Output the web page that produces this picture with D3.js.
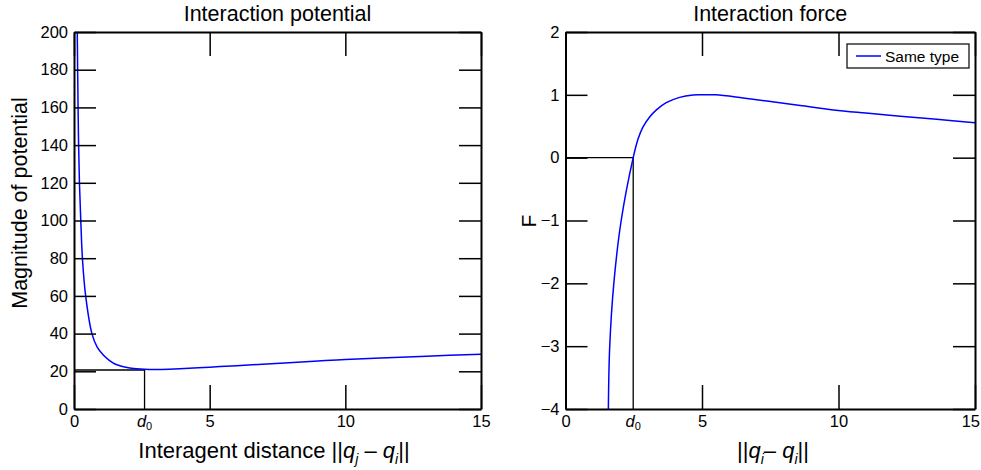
<!DOCTYPE html>
<html>
<head>
<meta charset="utf-8">
<script src="https://cdn.jsdelivr.net/npm/d3@7"></script>
<style>
  body { margin: 0; background: #fff; }
  svg text { font-family: "Liberation Sans", Arial, Helvetica, sans-serif; fill: #000; }
</style>
</head>
<body>
<svg width="981" height="470"></svg>
<script>

// potential curve
var potR = [0.12, 0.15, 0.17, 0.20, 0.25, 0.31, 0.43, 0.66, 0.85, 1.08, 1.30, 1.51, 1.75,
            2.00, 2.30, 2.60, 3.00, 3.50, 3.90, 5.00, 6.00, 7.60, 9.00, 10.0, 11.3, 13.0, 15.0];
var potU = [200, 160, 140, 120, 100, 80, 60, 40, 33, 28.6, 25.8, 23.9, 22.7,
            21.9, 21.4, 21.1, 21.0, 21.1, 21.3, 22.2, 23.0, 24.3, 25.5, 26.3, 27.0, 28.0, 29.1];

// force curve
var forceR = [1.57, 1.62, 1.77, 2.04, 2.48, 2.66, 2.84, 3.09, 3.33, 3.69, 4.18, 4.67, 5.00,
              5.50, 6.50, 7.38, 8.60, 9.82, 11.0, 12.26, 13.6, 15.0];
var forceF = [-4, -3, -2, -1, 0, 0.30, 0.49, 0.65, 0.76, 0.875, 0.96, 0.997, 1.0,
              1.0, 0.95, 0.90, 0.83, 0.76, 0.71, 0.66, 0.61, 0.555];

var xTicks = [0, 5, 10, 15];
var potTicks = [0, 20, 40, 60, 80, 100, 120, 140, 160, 180, 200];
var forceTicks = [-4, -3, -2, -1, 0, 1, 2];

var d0Pot = 2.6, uMin = 20.7;     // marker lines, left panel
var d0Force = 2.48;               // marker lines, right panel

var svg = d3.select('svg');

function panel(cfg) {
  var x = d3.scaleLinear().domain([0, 15]).range([cfg.left, cfg.right]);
  var y = d3.scaleLinear().domain(cfg.yDomain).range([409, 32]);
  var g = svg.append('g');

  g.append('clipPath').attr('id', cfg.id)
    .append('rect')
      .attr('x', cfg.left).attr('y', 32)
      .attr('width', cfg.right - cfg.left).attr('height', 409 - 32);

  // marker lines for d0
  g.append('path')
      .attr('d', 'M' + x(0) + ',' + y(cfg.markY) + 'H' + x(cfg.d0) + 'V' + y(cfg.yDomain[0]))
      .attr('fill', 'none').attr('stroke', '#000').attr('stroke-width', 1.3);

  // curve
  var line = d3.line()
      .x(function(d) { return x(d[0]); })
      .y(function(d) { return y(d[1]); })
      .curve(d3.curveCatmullRom.alpha(0.5));
  g.append('path')
      .datum(d3.zip(cfg.xs, cfg.ys))
      .attr('clip-path', 'url(#' + cfg.id + ')')
      .attr('d', line)
      .attr('fill', 'none').attr('stroke', '#0000ff').attr('stroke-width', 1.5);

  // axes, ticks pointing inward like matlab
  var fmt = function(d) { return d < 0 ? '\u2212' + (-d) : d; };
  var axes = [
    [d3.axisBottom(x).tickValues(xTicks).tickSize(-24).tickPadding(6), 'translate(0,409)'],
    [d3.axisTop(x).tickValues(xTicks).tickSize(-24).tickFormat(''), 'translate(0,32)'],
    [d3.axisLeft(y).tickValues(cfg.yTicks).tickSize(-22).tickPadding(6).tickFormat(fmt), 'translate(' + cfg.left + ',0)'],
    [d3.axisRight(y).tickValues(cfg.yTicks).tickSize(-22).tickFormat(''), 'translate(' + cfg.right + ',0)']
  ];
  axes.forEach(function(a) {
    var ag = g.append('g').attr('transform', a[1]).call(a[0].tickSizeOuter(0));
    ag.attr('font-family', null).attr('font-size', 16.5);
    ag.select('.domain').attr('stroke-width', 2);
    ag.selectAll('.tick line').attr('stroke-width', 1.5);
  });

  // keep the last label inside the page
  g.selectAll('.tick text').each(function() {
    var b = this.getBBox(), m = this.getCTM();
    var over = m.e + b.x + b.width - 980;
    if (over > 0) d3.select(this).attr('x', -over);
  });

  // d0 tick label
  var t = g.append('text')
      .attr('x', x(cfg.d0)).attr('y', 409 + 18)
      .attr('text-anchor', 'middle').attr('font-size', 16.5);
  t.append('tspan').attr('font-style', 'italic').text('d');
  t.append('tspan').attr('font-size', 11).attr('dy', 3).text('0');

  // title
  g.append('text')
      .attr('x', (cfg.left + cfg.right) / 2).attr('y', 21)
      .attr('text-anchor', 'middle').attr('font-size', 21.5)
      .text(cfg.title);

  return { g: g, x: x, y: y };
}

function normDiff(text, x, prefix, sub1, sub2, sep) {
  text.attr('x', x).attr('y', 458).attr('text-anchor', 'middle').attr('font-size', 22);
  text.append('tspan').text(prefix + '||');
  text.append('tspan').attr('font-style', 'italic').text('q');
  text.append('tspan').attr('font-size', 14).attr('font-style', 'italic').attr('dy', 6).text(sub1);
  text.append('tspan').attr('dy', -6).text(sep);
  text.append('tspan').attr('font-style', 'italic').text('q');
  text.append('tspan').attr('font-size', 14).attr('font-style', 'italic').attr('dy', 6).text(sub2);
  text.append('tspan').attr('dy', -6).text('||');
}

var left = panel({
  id: 'clipPot', left: 74, right: 481, yDomain: [0, 200], yTicks: potTicks,
  xs: potR, ys: potU, d0: d0Pot, markY: uMin, title: 'Interaction potential'
});

var right = panel({
  id: 'clipForce', left: 565.5, right: 975, yDomain: [-4, 2], yTicks: forceTicks,
  xs: forceR, ys: forceF, d0: d0Force, markY: 0, title: 'Interaction force'
});

// axis labels
normDiff(svg.append('text'), 274, 'Interagent distance ', 'j', 'i', ' \u2013 ');
normDiff(svg.append('text'), 773, '', 'i', 'i', '\u2013 ');

svg.append('text')
    .attr('transform', 'translate(27,203) rotate(-90)')
    .attr('text-anchor', 'middle').attr('font-size', 21.5)
    .text('Magnitude of potential');

svg.append('text')
    .attr('transform', 'translate(536,221) rotate(-90)')
    .attr('text-anchor', 'middle').attr('font-size', 21)
    .text('F');

// legend
var lg = svg.append('g').attr('transform', 'translate(847,44)');
lg.append('rect').attr('width', 122).attr('height', 24)
    .attr('fill', '#fff').attr('stroke', '#000').attr('stroke-width', 1.2);
lg.append('line').attr('x1', 9).attr('x2', 34).attr('y1', 12).attr('y2', 12)
    .attr('stroke', '#0000ff').attr('stroke-width', 1.5);
lg.append('text').attr('x', 38).attr('y', 17.5).attr('font-size', 15.5).text('Same type');

</script>
</body>
</html>
